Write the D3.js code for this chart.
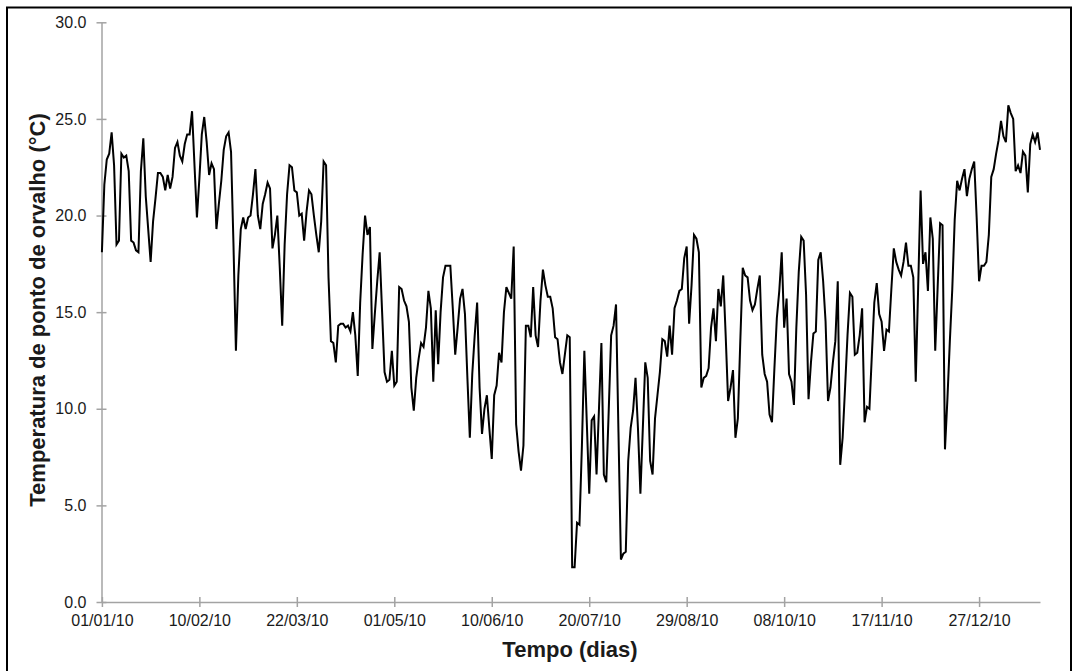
<!DOCTYPE html>
<html>
<head>
<meta charset="utf-8">
<script src="https://cdn.jsdelivr.net/npm/d3@7"></script>
<style>
  html, body { margin: 0; padding: 0; background: #fff; }
  svg { display: block; font-family: "Liberation Sans", Arial, sans-serif; }
</style>
</head>
<body>
<svg id="chart" width="1079" height="671"></svg>
<script>
// Daily dew-point temperature series, starting 01/01/2010
const startDate = "01/01/10";
const dewPoint = [
  18.1, 21.6, 22.9, 23.2, 24.3, 22.6, 18.5, 18.7, 23.2, 23.0,
  23.1, 22.3, 18.7, 18.6, 18.2, 18.1, 22.3, 24.0, 21.0, 19.3,
  17.6, 19.7, 20.9, 22.2, 22.2, 22.0, 21.3, 22.1, 21.4, 22.0,
  23.5, 23.8, 23.1, 22.8, 23.7, 24.2, 24.2, 25.4, 22.6, 19.9,
  21.9, 24.2, 25.1, 23.8, 22.1, 22.7, 22.4, 19.3, 20.6, 21.8,
  23.4, 24.1, 24.3, 23.3, 18.5, 13.0, 16.9, 19.3, 19.9, 19.3,
  19.9, 20.0, 21.1, 22.4, 20.0, 19.3, 20.6, 21.1, 21.7, 21.4,
  18.3, 19.0, 20.0, 17.3, 14.3, 18.5, 21.1, 22.6, 22.5, 21.3,
  21.2, 20.0, 20.1, 18.7, 20.2, 21.3, 21.1, 20.0, 19.0, 18.1,
  19.7, 22.8, 22.6, 16.8, 13.5, 13.4, 12.4, 14.3, 14.4, 14.4,
  14.2, 14.3, 14.0, 15.0, 13.8, 11.7, 15.5, 18.0, 20.0, 19.0,
  19.4, 13.1, 14.9, 16.6, 18.1, 15.0, 11.9, 11.4, 11.5, 13.0,
  11.2, 11.4, 16.3, 16.2, 15.6, 15.3, 14.5, 11.1, 9.9, 11.6,
  12.6, 13.4, 13.2, 14.2, 16.1, 15.2, 11.4, 15.1, 12.3, 15.0,
  16.8, 17.4, 17.4, 17.4, 15.2, 12.8, 14.2, 15.7, 16.2, 14.9,
  11.6, 8.5, 11.8, 13.8, 15.5, 11.1, 8.7, 10.0, 10.7, 9.0,
  7.4, 10.7, 11.2, 12.9, 12.4, 15.0, 16.3, 16.0, 15.7, 18.4,
  9.2, 7.8, 6.8, 8.1, 14.3, 14.3, 13.7, 16.3, 13.8, 13.2,
  15.6, 17.2, 16.4, 15.8, 15.8, 15.2, 13.7, 13.6, 12.4, 11.8,
  12.8, 13.8, 13.7, 1.8, 1.8, 4.1, 4.0, 8.1, 13.0, 9.3,
  5.6, 9.4, 9.6, 6.6, 10.0, 13.4, 6.6, 6.2, 9.9, 13.8,
  14.3, 15.4, 8.8, 2.2, 2.5, 2.6, 7.3, 9.0, 9.9, 11.6,
  9.0, 5.6, 9.0, 12.4, 11.6, 7.3, 6.6, 9.5, 10.7, 11.9,
  13.6, 13.5, 12.7, 14.3, 12.8, 15.2, 15.6, 16.1, 16.2, 17.8,
  18.4, 14.4, 16.4, 19.0, 18.8, 18.1, 11.1, 11.6, 11.7, 12.1,
  14.2, 15.2, 13.5, 16.2, 15.3, 16.9, 13.8, 10.4, 11.1, 12.0,
  8.5, 9.5, 13.5, 17.3, 16.9, 16.8, 15.6, 15.1, 15.4, 16.2,
  16.9, 12.8, 11.8, 11.4, 9.7, 9.3, 12.1, 14.7, 16.1, 18.1,
  14.2, 15.7, 11.8, 11.4, 10.2, 14.2, 17.1, 18.9, 18.7, 15.9,
  10.5, 12.4, 13.9, 14.0, 17.7, 18.1, 16.6, 14.5, 10.4, 11.1,
  12.4, 13.5, 16.6, 7.1, 8.5, 11.1, 13.8, 16.0, 15.8, 12.8,
  12.9, 13.8, 15.2, 9.3, 10.1, 10.0, 12.8, 15.5, 16.5, 14.9,
  14.5, 13.0, 14.1, 14.0, 16.2, 18.3, 17.6, 17.2, 16.9, 17.6,
  18.6, 17.4, 17.4, 16.8, 11.4, 16.3, 21.3, 17.5, 18.1, 16.1,
  19.9, 18.8, 13.0, 16.3, 19.6, 19.5, 7.9, 10.5, 13.5, 16.2,
  19.8, 21.8, 21.3, 21.9, 22.4, 21.0, 21.9, 22.4, 22.8, 19.9,
  16.6, 17.4, 17.4, 17.6, 19.0, 22.0, 22.4, 23.2, 23.9, 24.9,
  24.1, 23.8, 25.7, 25.3, 25.0, 22.3, 22.6, 22.2, 23.3, 23.1,
  21.2, 23.7, 24.2, 23.8, 24.3, 23.4
];
const xTickLabels = ["01/01/10", "10/02/10", "22/03/10", "01/05/10", "10/06/10",
                     "20/07/10", "29/08/10", "08/10/10", "17/11/10", "27/12/10"];
const yTickValues = [0, 5, 10, 15, 20, 25, 30];
const xTitle = "Tempo (dias)";
const yTitle = "Temperatura de ponto de orvalho (°C)";

const parse = d3.utcParse("%d/%m/%y");
const fmt = d3.utcFormat("%d/%m/%y");
const t0 = parse(startDate);
const series = dewPoint.map((v, i) => ({ date: d3.utcDay.offset(t0, i), value: v }));
const tickDates = xTickLabels.map(parse);

const svg = d3.select("#chart");

// outer frame
svg.append("rect")
  .attr("x", 7).attr("y", 7.5)
  .attr("width", 1064).attr("height", 700)
  .attr("fill", "none").attr("stroke", "#000").attr("stroke-width", 2);

const x = d3.scaleUtc()
  .domain([t0, series[series.length - 1].date])
  .range([101.9, 1040]);
const y = d3.scaleLinear().domain([0, 30]).range([602, 22.3]);

const axisColor = "#a3a3a3";

// y axis
const gy = svg.append("g").attr("transform", "translate(101.5,0)")
  .call(d3.axisLeft(y).tickValues(yTickValues).tickFormat(d3.format(".1f"))
    .tickSizeInner(5).tickSizeOuter(0).tickPadding(10));
gy.select(".domain").attr("stroke", axisColor).attr("stroke-width", 1.5);
gy.selectAll(".tick line").attr("x1", -5).attr("x2", 5)
  .attr("stroke", axisColor).attr("stroke-width", 1.5);
gy.selectAll(".tick text").attr("font-size", 16).attr("fill", "#1a1a1a")
  .attr("font-family", "Liberation Sans, Arial, sans-serif");

// x axis
const gx = svg.append("g").attr("transform", `translate(0,${y(0)})`)
  .call(d3.axisBottom(x).tickValues(tickDates).tickFormat(fmt)
    .tickSizeInner(5).tickSizeOuter(0).tickPadding(8));
gx.select(".domain").attr("stroke", axisColor).attr("stroke-width", 1.5);
gx.selectAll(".tick line").attr("y1", -5).attr("y2", 5)
  .attr("stroke", axisColor).attr("stroke-width", 1.5);
gx.selectAll(".tick text").attr("font-size", 16).attr("fill", "#1a1a1a")
  .attr("font-family", "Liberation Sans, Arial, sans-serif");

// series line
const line = d3.line().x(d => x(d.date)).y(d => y(d.value));
svg.append("path")
  .datum(series)
  .attr("d", line)
  .attr("fill", "none")
  .attr("stroke", "#000")
  .attr("stroke-width", 2)
  .attr("stroke-linejoin", "miter");

// axis titles
svg.append("text")
  .attr("x", 570).attr("y", 657)
  .attr("text-anchor", "middle")
  .attr("font-size", 22).attr("font-weight", "bold").attr("fill", "#1a1a1a")
  .text(xTitle);

svg.append("text")
  .attr("transform", "translate(45,310) rotate(-90)")
  .attr("text-anchor", "middle")
  .attr("font-size", 22).attr("font-weight", "bold").attr("fill", "#1a1a1a")
  .text(yTitle);
</script>
</body>
</html>
